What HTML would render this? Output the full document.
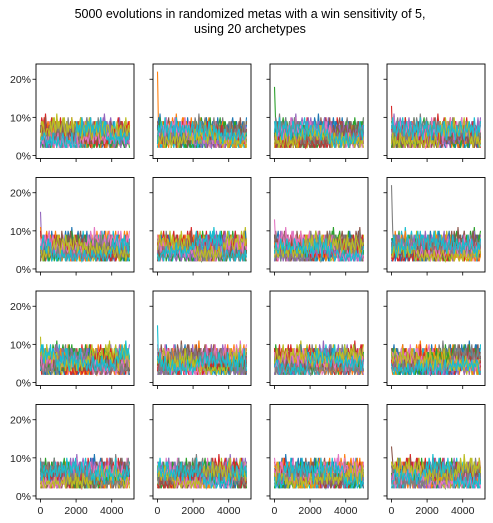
<!DOCTYPE html>
<html><head><meta charset="utf-8"><style>
html,body{margin:0;padding:0;background:#fff;}
svg{display:block;font-family:"Liberation Sans","DejaVu Sans",sans-serif;}
</style></head><body>
<svg id="chart" width="493" height="523">
<text x="250" y="18" text-anchor="middle" font-size="12.5" fill="#000">5000 evolutions in randomized metas with a win sensitivity of 5,</text>
<text x="250" y="33" text-anchor="middle" font-size="12.5" fill="#000">using 20 archetypes</text>
</svg>
<script>
const colors=['#1f77b4','#ff7f0e','#2ca02c','#d62728','#9467bd','#8c564b','#e377c2','#7f7f7f','#bcbd22','#17becf'];
const xTicks=[0,2000,4000];
const yTicks=[0,10,20];
const yTickLabels=['0%','10%','20%'];
const series=[
[4,6,3,7,5,8,4,6,9,5,3,6,7,4,8,5,6,3,7,9,5,4,6,5],
[6,3,5,2,4,3,6,2,3,5,4,2,3,6,2,4,3,5,2,3,4,6,2,3],
[3,8,6,9,7,5,10,6,8,4,7,9,6,8,5,10,7,6,9,5,8,6,7,8],
[7,5,9,6,10,8,6,11,7,9,6,8,10,7,5,9,6,8,7,10,6,9,8,7],
[2,4,3,5,2,6,3,4,2,5,3,2,4,6,3,2,5,3,4,2,6,3,2,4],
[5,9,7,4,8,6,9,5,7,10,6,4,8,7,9,5,6,8,4,7,9,6,5,8],
[8,4,6,3,5,7,4,6,3,8,5,7,4,9,6,3,7,5,8,4,6,3,7,5],
[3,5,2,4,6,3,5,2,4,3,6,2,5,3,4,2,6,4,3,5,2,4,3,5],
[9,6,8,5,10,7,5,8,6,9,7,10,6,8,5,7,9,6,8,10,5,7,9,6],
[4,7,5,6,3,5,7,4,6,5,4,7,3,6,5,4,6,7,3,5,6,4,5,6],
[5,3,4,6,3,2,5,4,3,6,2,4,5,3,6,4,2,5,3,4,6,3,4,5],
[6,8,5,7,9,6,4,7,8,5,9,6,7,4,8,6,5,9,7,6,4,8,6,7],
[2,3,5,3,2,4,3,2,5,3,4,2,3,4,2,5,3,2,4,3,2,4,5,3],
[7,5,8,10,6,8,9,6,5,8,7,9,5,6,8,7,10,6,8,5,7,9,6,8],
[4,2,3,5,4,3,2,4,5,3,2,4,3,5,2,3,4,2,5,3,4,2,3,4],
[5,7,4,6,8,5,7,9,4,6,8,5,7,6,4,8,5,7,6,9,5,6,8,5],
[3,6,4,3,5,7,4,3,6,4,5,3,7,4,6,3,5,4,3,6,4,5,3,6],
[6,4,7,5,4,6,8,5,7,4,6,8,5,7,4,6,5,8,6,4,7,5,6,4],
[8,6,5,8,7,4,6,9,5,7,8,5,6,9,7,5,8,6,4,7,9,6,5,7],
[4,5,3,6,4,5,3,6,4,5,3,7,4,5,6,3,5,4,6,3,5,4,6,5]
];
const startSpikes=[0,22,18,13,15,0,13,22,12,15,0,0,0,0,0,13];
const svg=document.getElementById('chart');
const NS='http://www.w3.org/2000/svg';
const colX=[36,153,270,387], rowY=[64,177.5,291,404.5], W=98, H=94.5;
function mk(t,a){const e=document.createElementNS(NS,t);for(const k in a)e.setAttribute(k,a[k]);svg.appendChild(e);return e;}
for(let r=0;r<4;r++)for(let c=0;c<4;c++){
  const p=r*4+c, x0=colX[c], y0=rowY[r];
  const sx=v=>x0+(v+250)/5500*W;
  const sy=v=>y0+H-(v+0.8)/24.8*H;
  const clip=mk('clipPath',{id:'cp'+p});
  const cr=document.createElementNS(NS,'rect');cr.setAttribute('x',x0);cr.setAttribute('y',y0);cr.setAttribute('width',W);cr.setAttribute('height',H);clip.appendChild(cr);
  const g=mk('g',{'clip-path':'url(#cp'+p+')'});
  
  
  for(let s=0;s<20;s++){
    const vals=series[(s+p*3)%20].concat(series[(s+p*7+5)%20],series[(s*3+p+11)%20]);
    const off=(p*5+s)%24;
    const n=vals.length;
    let d='';
    for(let i=0;i<n;i++){
      let v=vals[(i+off)%n];
      if(i===0&&s===(p%20)&&startSpikes[p])v=startSpikes[p];
      const t=i*5000/(n-1);
      d+=(i?'L':'M')+sx(t).toFixed(1)+','+sy(v).toFixed(1);
    }
    const pa=document.createElementNS(NS,'path');
    pa.setAttribute('d',d);pa.setAttribute('fill','none');pa.setAttribute('stroke',colors[s%10]);pa.setAttribute('stroke-width','1.1');
    
    
    g.appendChild(pa);
  }
  const fr=mk('rect',{x:x0,y:y0,width:W,height:H,fill:'none',stroke:'#000','stroke-width':0.9});
  
  
  yTicks.forEach((t,i)=>{
    const y=sy(t);
    mk('line',{x1:x0-3.5,x2:x0,y1:y,y2:y,stroke:'#000','stroke-width':0.8});
    if(c===0){const tx=mk('text',{x:x0-5,y:y+4,'text-anchor':'end','font-size':10.5,fill:'#222'});tx.textContent=yTickLabels[i];
      
      }
  });
  xTicks.forEach(t=>{
    const x=sx(t);
    mk('line',{x1:x,x2:x,y1:y0+H,y2:y0+H+3.5,stroke:'#000','stroke-width':0.8});
    if(r===3){const tx=mk('text',{x:x,y:y0+H+15,'text-anchor':'middle','font-size':10.5,fill:'#222'});tx.textContent=String(t);
      
      }
  });
}
</script>
</body></html>
